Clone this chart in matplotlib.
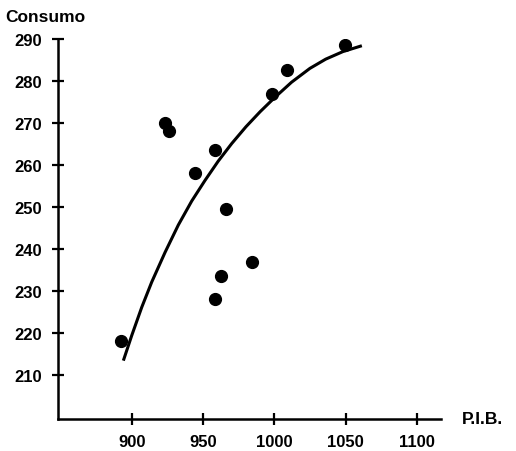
"""
Consumo vs P.I.B. - scatter of observations with the fitted curve.
"""
import matplotlib
matplotlib.use('Agg')
import matplotlib.pyplot as plt

# observed points (P.I.B., Consumo)
pib = [892, 923, 926, 944, 958, 966, 984, 962.5, 958, 998, 1009, 1049.5]
consumo = [218, 270, 268, 258, 263.6, 249.5, 237, 233.6, 228, 277, 282.6, 288.6]

# fitted curve
curve_x = [893.9, 899.8, 906.8, 913.8, 923.2, 932.5, 941.9, 951.2, 960.5, 970,
           980, 990, 1000, 1012, 1024.9, 1036, 1048.1, 1061.4]
curve_y = [213.4, 219.4, 226.1, 232.1, 239.2, 245.7, 251.4, 256.3, 260.9, 265.1,
           269.1, 272.7, 276.0, 279.7, 283.0, 285.2, 287.0, 288.4]

xticks = [900, 950, 1000, 1050, 1100]
yticks = [210, 220, 230, 240, 250, 260, 270, 280, 290]

plt.rcParams['font.family'] = ['Liberation Sans', 'DejaVu Sans']

fig = plt.figure(figsize=(5.16, 4.52), dpi=100)
ax = fig.add_axes([0.1124, 0.0708, 0.7423, 0.8407])

ax.plot(curve_x, curve_y, color='black', lw=2.2, solid_capstyle='butt',
        solid_joinstyle='round')
ax.plot(pib, consumo, 'o', color='black', markersize=8.5)

ax.set_xlim(848, 1117)
ax.set_ylim(199.5, 290)
ax.set_xticks(xticks)
ax.set_yticks(yticks)

for s in ['top', 'right']:
    ax.spines[s].set_visible(False)
for s in ['left', 'bottom']:
    ax.spines[s].set_linewidth(1.8)

ax.tick_params(direction='inout', length=9, width=1.6, labelsize=12)
ax.tick_params(axis='y', pad=7)
ax.tick_params(axis='x', pad=6)
for lab in ax.get_xticklabels() + ax.get_yticklabels():
    lab.set_fontweight('bold')

fig.text(5 / 516, 1 - 17 / 452, 'Consumo', fontsize=12.5, fontweight='bold',
         va='center', ha='left')
fig.text(462 / 516, 1 - 420 / 452, 'P.I.B.', fontsize=12.5, fontweight='bold',
         va='center', ha='left')

fig.savefig('out.png', dpi=100)
